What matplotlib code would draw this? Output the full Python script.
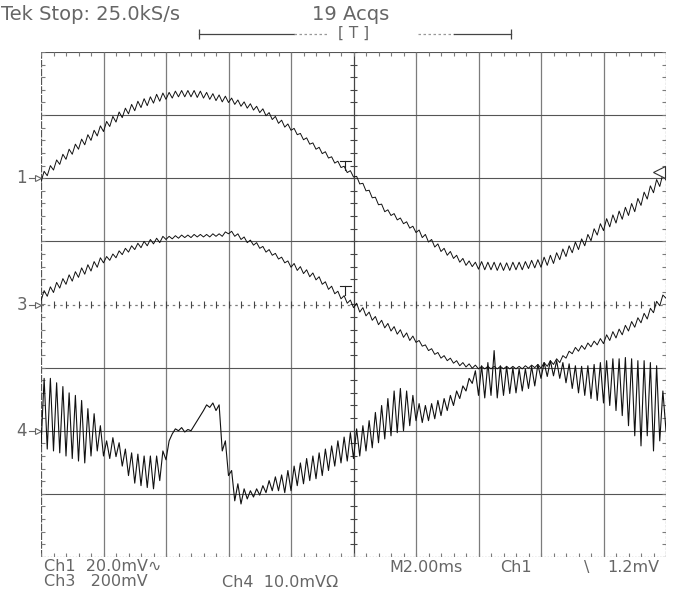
import numpy as np
import matplotlib.pyplot as plt


#################### Screen readout ####################

header_left = 'Tek Stop: 25.0kS/s'
header_acqs = '19 Acqs'
scale_ch1 = 'Ch1  20.0mV\u223f'
scale_ch3 = 'Ch3   200mV'
scale_ch4 = 'Ch4  10.0mV\u03a9'
time_base = 'M2.00ms'
trig_src = 'Ch1'
trig_slope = '\\'
trig_level = '1.2mV'

# channel ground markers (division) on the left edge
channels = ['1', '3', '4']
channel_levels = [2, 0, -2]

#################### Traces ####################
# values in screen divisions, one trough (lo) and one peak (hi) per ripple
# cycle, 0.1 div per cycle, one row per horizontal division

ch1_lo = [
    1.94, 2.04, 2.13, 2.22, 2.30, 2.38, 2.46, 2.53, 2.60, 2.67,
    2.74, 2.82, 2.89, 2.96, 3.02, 3.07, 3.12, 3.15, 3.19, 3.22,
    3.25, 3.27, 3.29, 3.29, 3.29, 3.28, 3.27, 3.25, 3.23, 3.21,
    3.20, 3.17, 3.14, 3.11, 3.08, 3.04, 2.99, 2.93, 2.87, 2.81,
    2.76, 2.69, 2.61, 2.54, 2.46, 2.39, 2.32, 2.24, 2.17, 2.09,
    2.02, 1.91, 1.80, 1.69, 1.58, 1.47, 1.41, 1.34, 1.28, 1.21,
    1.14, 1.06, 0.99, 0.91, 0.84, 0.78, 0.73, 0.67, 0.62, 0.60,
    0.56, 0.55, 0.55, 0.54, 0.54, 0.54, 0.55, 0.55, 0.57, 0.58,
    0.59, 0.62, 0.65, 0.71, 0.76, 0.82, 0.87, 0.93, 1.01, 1.10,
    1.17, 1.23, 1.29, 1.35, 1.41, 1.47, 1.57, 1.67, 1.77, 1.87,
    1.97]
ch1_hi = [
    2.11, 2.20, 2.29, 2.38, 2.46, 2.54, 2.62, 2.69, 2.76, 2.83,
    2.90, 2.98, 3.05, 3.11, 3.17, 3.22, 3.26, 3.29, 3.33, 3.35,
    3.36, 3.38, 3.39, 3.39, 3.39, 3.38, 3.36, 3.34, 3.32, 3.30,
    3.27, 3.24, 3.21, 3.18, 3.14, 3.10, 3.04, 2.98, 2.92, 2.86,
    2.79, 2.71, 2.64, 2.56, 2.49, 2.42, 2.34, 2.27, 2.19, 2.12,
    2.03, 1.92, 1.81, 1.70, 1.59, 1.50, 1.44, 1.37, 1.31, 1.24,
    1.18, 1.11, 1.03, 0.96, 0.89, 0.84, 0.78, 0.73, 0.69, 0.67,
    0.68, 0.67, 0.67, 0.66, 0.66, 0.67, 0.67, 0.68, 0.70, 0.71,
    0.75, 0.78, 0.82, 0.88, 0.93, 0.99, 1.04, 1.11, 1.20, 1.28,
    1.36, 1.42, 1.48, 1.54, 1.60, 1.68, 1.78, 1.88, 1.98, 2.07]

ch3_lo = [
    0.06, 0.13, 0.19, 0.26, 0.32, 0.37, 0.43, 0.48, 0.53, 0.59,
    0.66, 0.70, 0.74, 0.79, 0.83, 0.87, 0.90, 0.93, 0.96, 0.98,
    1.03, 1.04, 1.05, 1.06, 1.06, 1.07, 1.07, 1.07, 1.08, 1.08,
    1.12, 1.08, 1.03, 0.98, 0.94, 0.89, 0.83, 0.78, 0.72, 0.66,
    0.59, 0.54, 0.49, 0.44, 0.39, 0.32, 0.24, 0.17, 0.09, 0.02,
    -0.05, -0.12, -0.18, -0.25, -0.32, -0.37, -0.42, -0.47, -0.52, -0.57,
    -0.60, -0.66, -0.73, -0.79, -0.85, -0.89, -0.93, -0.97, -0.99, -1.01,
    -1.02, -1.02, -1.02, -1.02, -1.02, -1.02, -1.02, -1.02, -1.01, -1.00,
    -1.01, -0.98, -0.95, -0.92, -0.85, -0.78, -0.74, -0.71, -0.67, -0.64,
    -0.62, -0.57, -0.53, -0.48, -0.42, -0.36, -0.29, -0.23, -0.13, -0.02,
    0.10]
ch3_hi = [
    0.22, 0.28, 0.35, 0.41, 0.47, 0.52, 0.58, 0.63, 0.68, 0.74,
    0.76, 0.80, 0.85, 0.89, 0.93, 0.97, 1.00, 1.03, 1.05, 1.08,
    1.08, 1.09, 1.10, 1.10, 1.11, 1.11, 1.11, 1.12, 1.12, 1.15,
    1.16, 1.12, 1.07, 1.02, 0.98, 0.92, 0.87, 0.81, 0.75, 0.69,
    0.65, 0.60, 0.55, 0.50, 0.44, 0.36, 0.29, 0.21, 0.14, 0.07,
    0.02, -0.05, -0.12, -0.19, -0.25, -0.30, -0.35, -0.40, -0.45, -0.50,
    -0.57, -0.64, -0.70, -0.76, -0.81, -0.85, -0.89, -0.92, -0.94, -0.96,
    -0.98, -0.98, -0.98, -0.98, -0.98, -0.98, -0.98, -0.97, -0.96, -0.95,
    -0.92, -0.89, -0.86, -0.81, -0.74, -0.68, -0.65, -0.61, -0.58, -0.54,
    -0.48, -0.43, -0.39, -0.33, -0.27, -0.21, -0.14, -0.06, 0.05, 0.15]

ch4_lo = [
    -2.24, -2.29, -2.32, -2.35, -2.40, -2.44, -2.48, -2.51, -2.40, -2.32,
    -2.40, -2.44, -2.41, -2.56, -2.71, -2.83, -2.87, -2.90, -2.92, -2.79,
    -2.46, -2.05, -2.00, -2.02, -2.00, -1.84, -1.68, -1.63, -1.68, -2.32,
    -2.71, -3.11, -3.16, -3.08, -3.05, -3.02, -2.98, -2.95, -2.95, -2.98,
    -2.95, -2.87, -2.84, -2.79, -2.76, -2.71, -2.63, -2.56, -2.51, -2.48,
    -2.44, -2.40, -2.32, -2.27, -2.19, -2.13, -2.08, -2.03, -2.00, -1.92,
    -1.84, -1.87, -1.84, -1.81, -1.76, -1.68, -1.60, -1.49, -1.37, -1.25,
    -1.44, -1.48, -1.44, -1.48, -1.44, -1.41, -1.40, -1.37, -1.33, -1.29,
    -1.17, -1.14, -1.13, -1.17, -1.24, -1.33, -1.40, -1.44, -1.49, -1.52,
    -1.56, -1.60, -1.68, -1.76, -1.92, -2.08, -2.24, -2.08, -2.32, -2.16,
    -2.00]
ch4_hi = [
    -1.17, -1.17, -1.24, -1.30, -1.40, -1.44, -1.52, -1.65, -1.73, -1.92,
    -2.16, -2.11, -2.19, -2.29, -2.35, -2.37, -2.40, -2.40, -2.40, -2.32,
    -2.16, -1.97, -1.95, -1.98, -1.92, -1.76, -1.59, -1.56, -1.59, -2.16,
    -2.63, -2.84, -2.92, -2.95, -2.92, -2.87, -2.79, -2.73, -2.70, -2.63,
    -2.56, -2.51, -2.44, -2.40, -2.35, -2.29, -2.24, -2.16, -2.10, -2.03,
    -1.97, -1.92, -1.84, -1.71, -1.60, -1.49, -1.37, -1.33, -1.37, -1.44,
    -1.57, -1.60, -1.57, -1.52, -1.49, -1.44, -1.37, -1.29, -1.17, -1.05,
    -0.97, -0.92, -0.73, -0.97, -0.98, -1.00, -1.02, -1.02, -0.98, -0.95,
    -0.92, -0.89, -0.89, -0.92, -0.94, -0.97, -0.98, -0.97, -0.95, -0.92,
    -0.89, -0.86, -0.86, -0.84, -0.86, -0.89, -0.89, -0.92, -0.97, -1.37]


def zigzag(lo, hi):
    '''
    Interleave troughs and peaks into one polyline (x in divisions)
    '''
    x = np.empty(len(lo) + len(hi))
    y = np.empty(len(lo) + len(hi))
    x[0::2] = np.arange(len(lo)) * 0.1
    x[1::2] = np.arange(len(hi)) * 0.1 + 0.05
    y[0::2] = lo
    y[1::2] = hi
    return x, y


W, H = 679, 594
VGRID = '#7c7c7c'
HGRID = '#555555'
TXT = '#666666'
FAMILY = ['DejaVu Sans', 'DejaVu Sans Mono', 'Noto Sans']


def fpos(x, y):
    # pixel position -> figure fraction
    return x / W, 1 - y / H


fig = plt.figure(figsize=(W / 100, H / 100), dpi=100)
ax = fig.add_axes([41 / W, 37 / H, 625 / W, 505 / H])
ax.set_xlim(0, 10)
ax.set_ylim(-4, 4)
ax.axis('off')

#################### Graticule ####################

# division lines
for i in range(1, 10):
    if i != 5:
        ax.axvline(i, color=VGRID, lw=0.9)
for j in (-3, -2, -1, 1, 2, 3):
    ax.axhline(j, color=HGRID, lw=0.8)

# frame
ax.plot([0, 0], [-4, 4], color=HGRID, lw=0.9, ls=(0, (6, 1)))
ax.plot([0, 10], [4, 4], color=HGRID, lw=0.8)
ax.plot([10, 10], [-4, 4], color=VGRID, lw=0.9, ls=(0, (2, 1)))
ax.plot([0, 10], [-4, -4], color=HGRID, lw=0.9, ls=(0, (1, 1.5)))

# center crosshair
ax.axvline(5, color='#444444', lw=0.9)
ax.axhline(0, color=VGRID, lw=0.9, ls=(0, (2, 3)))

minor_x = np.arange(0, 10.01, 0.2)
minor_y = np.arange(-4, 4.01, 0.2)
tick = 0.06
ax.vlines(minor_x, -tick, tick, color='#444444', lw=0.8)
ax.hlines(minor_y, 5 - tick, 5 + tick, color='#444444', lw=0.8)
ax.vlines(minor_x, 4 - tick, 4, color=VGRID, lw=0.8)
ax.vlines(minor_x, -4, -4 + tick, color=VGRID, lw=0.8)
ax.hlines(minor_y, 0, tick, color=VGRID, lw=0.8)
ax.hlines(minor_y, 10 - tick, 10, color=VGRID, lw=0.8)

#################### Waveforms ####################

for lo, hi, lw in [(ch1_lo, ch1_hi, 0.7), (ch3_lo, ch3_hi, 0.7),
                   (ch4_lo, ch4_hi, 0.8)]:
    x, y = zigzag(lo, hi)
    ax.plot(x, y, color='#111111', lw=lw, zorder=5)

# trigger point markers
for level in (2.27, 0.29):
    ax.plot([4.78, 4.96], [level, level], color='#222222', lw=0.8, zorder=6)
    ax.plot([4.87, 4.87], [level, level - 0.14], color='#222222', lw=0.8,
            zorder=6)

# trigger level marker on the right edge
ax.plot(9.88, 2.1, marker='<', ms=8, mfc='white', mec='#333333', mew=0.8,
        clip_on=False, zorder=7)

# channel ground markers on the left edge
for name, level in zip(channels, channel_levels):
    ax.text(-0.31, level, name, ha='center', va='center', fontsize=12,
            color=TXT, family=FAMILY)
    ax.plot([-0.2, -0.09], [level, level], color=TXT, lw=0.8, clip_on=False)
    ax.plot(-0.055, level, marker='>', ms=5, mfc='white', mec=TXT,
            mew=0.8, clip_on=False)

#################### Record view bar ####################

bar_y = 4.29
ax.plot([2.53, 4.04], [bar_y, bar_y], color='#444444', lw=0.9, clip_on=False)
ax.plot([4.04, 4.58], [bar_y, bar_y], color='#999999', lw=0.9,
        ls=(0, (2, 2)), clip_on=False)
ax.plot([6.03, 6.61], [bar_y, bar_y], color='#999999', lw=0.9,
        ls=(0, (2, 2)), clip_on=False)
ax.plot([6.61, 7.52], [bar_y, bar_y], color='#444444', lw=0.9, clip_on=False)
ax.vlines([2.53, 7.52], bar_y - 0.08, bar_y + 0.08, color='#444444', lw=0.9,
          clip_on=False)
ax.text(5.0, bar_y, '[ T ]', ha='center', va='center', fontsize=11,
        color=TXT, family=FAMILY)

#################### Readout text ####################

head = dict(fontsize=14, color=TXT, family=FAMILY, va='baseline')
fig.text(*fpos(1, 20), header_left, **head)
fig.text(*fpos(312, 20), header_acqs, **head)

font = dict(fontsize=11.5, color=TXT, family=FAMILY)
# the two left readout lines as one block
fig.text(*fpos(44, 559), scale_ch1 + '\n' + scale_ch3, va='top',
         linespacing=0.98, **font)
fig.text(*fpos(222, 587), scale_ch4, va='baseline', **font)
fig.text(*fpos(389, 572), time_base, va='baseline', **font)
fig.text(*fpos(500, 572), trig_src, va='baseline', **font)
fig.text(*fpos(584, 572), trig_slope, va='baseline', **font)
fig.text(*fpos(659, 572), trig_level, ha='right', va='baseline', **font)

fig.savefig('out.png', dpi=100, facecolor='white')
